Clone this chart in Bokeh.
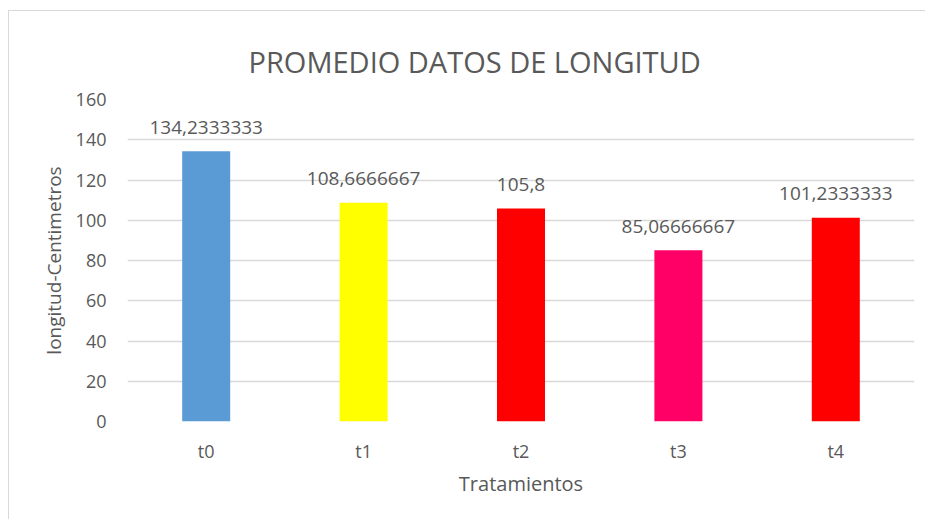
from bokeh.plotting import figure
from bokeh.models import ColumnDataSource, Range1d, FixedTicker, LabelSet
from bokeh.core.properties import value
from bokeh.embed import file_html
from bokeh.resources import INLINE

categories = ["t0", "t1", "t2", "t3", "t4"]
values = [134.2333333, 108.6666667, 105.8, 85.06666667, 101.2333333]
value_labels = ["134,2333333", "108,6666667", "105,8", "85,06666667", "101,2333333"]
colors = ["#5B9BD5", "#FFFF00", "#FF0000", "#FF0066", "#FF0000"]
y_ticks = [0, 20, 40, 60, 80, 100, 120, 140, 160]

FONT = "Open Sans"
TXT = "#595959"

src = ColumnDataSource(dict(cat=categories, val=values, lab=value_labels, col=colors))

p = figure(x_range=categories, y_range=Range1d(0, 160), width=917, height=509,
           output_backend="svg", toolbar_location=None,
           min_border_left=118, min_border_right=12, min_border_top=88, min_border_bottom=99,
           title="PROMEDIO DATOS DE LONGITUD")
p.styles = {"margin-left": "8px", "margin-top": "10px",
            "border-left": "1px solid #d9d9d9", "border-top": "1px solid #d9d9d9"}

p.vbar(x="cat", top="val", width=0.305, source=src, fill_color="col", line_color=None)

labels = LabelSet(x="cat", y="val", text="lab", source=src, text_align="center",
                  text_baseline="middle", y_offset=24, text_font=value(FONT),
                  text_font_size="19px", text_color=TXT)
p.add_layout(labels)

p.title.align = "left"
p.title.vertical_align = "top"
p.title.text_font = FONT
p.title.text_font_size = "29px"
p.title.text_font_style = "normal"
p.title.text_color = TXT
p.title.standoff = 33
p.title.offset = 121

p.outline_line_color = None
p.background_fill_color = "white"
p.border_fill_color = "white"

p.xgrid.grid_line_color = None
p.ygrid.grid_line_color = "#d9d9d9"
p.ygrid.grid_line_width = 1.5
p.yaxis.ticker = FixedTicker(ticks=y_ticks)

for ax in (p.xaxis[0], p.yaxis[0]):
    ax.axis_line_color = None
    ax.major_tick_line_color = None
    ax.minor_tick_line_color = None
    ax.major_label_text_font = FONT
    ax.major_label_text_font_size = "18px"
    ax.major_label_text_color = TXT
    ax.axis_label_text_font = FONT
    ax.axis_label_text_font_size = "20px"
    ax.axis_label_text_font_style = "normal"
    ax.axis_label_text_color = TXT

p.yaxis.axis_label_text_font_size = "19px"
p.yaxis.axis_label = "longitud-Centimetros"
p.xaxis.axis_label = "Tratamientos"
p.yaxis.major_label_standoff = 15
p.xaxis.major_label_standoff = 11
p.yaxis.axis_label_standoff = 6
p.xaxis.axis_label_standoff = 4

open("out.html", "w").write(file_html(p, INLINE))
